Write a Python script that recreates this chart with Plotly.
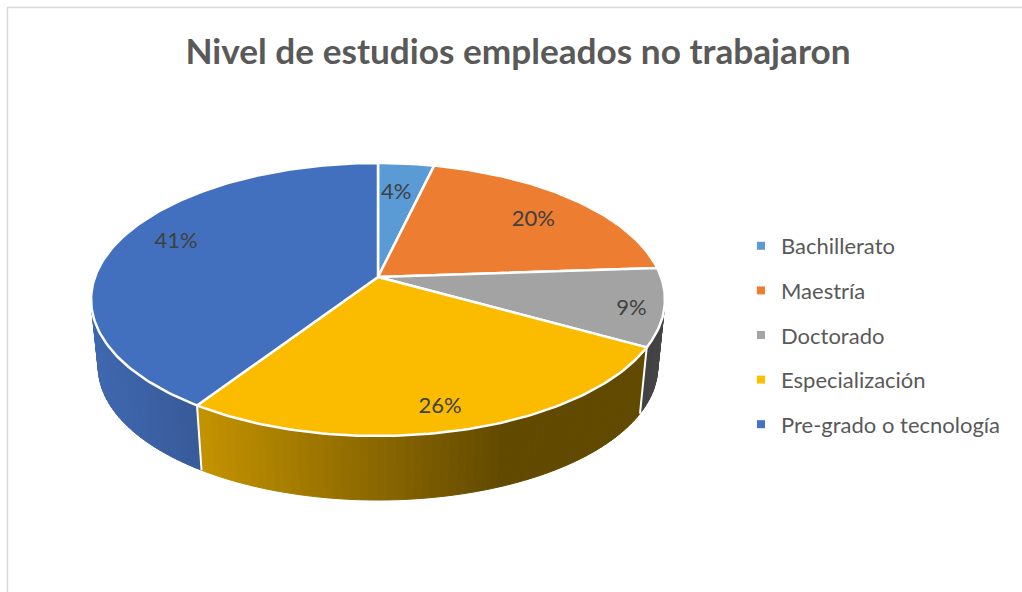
import math
import plotly.graph_objects as go

categories = ['Bachillerato', 'Maestría', 'Doctorado', 'Especialización', 'Pre-grado o tecnología']
values = [3.7, 20.2, 9.2, 26.2, 40.7]
percent_labels = ['4%', '20%', '9%', '26%', '41%']
title_text = 'Nivel de estudios empleados no trabajaron'

top_colors = ['#5b9bd5', '#ed7d31', '#a3a3a3', '#fbbc00', '#4270be']
legend_colors = ['#5b9bd5', '#ed7d31', '#a5a5a5', '#ffc000', '#4472c4']

# wall colour at the left / right end of the x span, per slice
wall_shade = {
    0: ('#35699a', '#35699a', 0, 1),
    1: ('#8a4a1d', '#8a4a1d', 0, 1),
    2: ('#3f3f3f', '#474747', 640, 665),
    3: ('#c49300', '#624900', 200, 500),
    4: ('#3f68b0', '#385a99', 92, 200),
}

# perspective of the disc, in pixels of the 1022x592 page
CX, CY = 378, 277
A, B, K = 283, 132.8, 0.1648
DROP, SHRINK = 68, 0.025

label_r = [0.72, 0.78, 0.885, 0.84, 0.80]
label_dx = [-3, 0, 1, -3, 7]
label_dy = [1, 5, 6, 5, -5]


def project(theta, r=1.0, z=0.0):
    u = r * math.sin(theta)
    v = -r * math.cos(theta)
    d = 1 - K * v
    s = 1 - z * SHRINK
    return CX + s * A * u / d, CY + z * DROP + s * B * v / d


def mix(c1, c2, t):
    t = min(1, max(0, t))
    a = [int(c1[i:i + 2], 16) for i in (1, 3, 5)]
    b = [int(c2[i:i + 2], 16) for i in (1, 3, 5)]
    return 'rgb(%d,%d,%d)' % tuple(round(p + (q - p) * t) for p, q in zip(a, b))


total = sum(values)
angles = [0]
for val in values:
    angles.append(angles[-1] + val / total * 2 * math.pi)

fig = go.Figure()

########### walls ###########
bands = []
for i in range(len(values)):
    n = max(2, int((angles[i + 1] - angles[i]) / math.radians(1.5)))
    for j in range(n):
        t0 = angles[i] + (angles[i + 1] - angles[i]) * j / n
        t1 = angles[i] + (angles[i + 1] - angles[i]) * (j + 1) / n
        bands.append((-math.cos((t0 + t1) / 2), i, t0, t1))

for v, i, t0, t1 in sorted(bands):
    if v < -0.45:
        continue
    pts = [project(t0), project(t1), project(t1, z=1), project(t0, z=1), project(t0)]
    c1, c2, xa, xb = wall_shade[i]
    col = mix(c1, c2, (sum(p[0] for p in pts[:4]) / 4 - xa) / (xb - xa))
    fig.add_trace(go.Scatter(x=[p[0] for p in pts], y=[p[1] for p in pts], mode='lines', fill='toself',
                             fillcolor=col, line=dict(color=col, width=1), showlegend=False, hoverinfo='skip'))

# white separators on the wall
for i in range(len(values)):
    if -math.cos(angles[i]) > 0.2:
        p0, p1 = project(angles[i]), project(angles[i], z=1)
        fig.add_trace(go.Scatter(x=[p0[0], p1[0]], y=[p0[1], p1[1]], mode='lines',
                                 line=dict(color='white', width=2), showlegend=False, hoverinfo='skip'))

########### top of the pie ###########
for i, name in enumerate(categories):
    n = max(2, int((angles[i + 1] - angles[i]) / math.radians(1)))
    pts = [project(0, r=0)]
    pts += [project(angles[i] + (angles[i + 1] - angles[i]) * j / n) for j in range(n + 1)]
    pts.append(project(0, r=0))
    fig.add_trace(go.Scatter(x=[p[0] for p in pts], y=[p[1] for p in pts], mode='lines', fill='toself',
                             fillcolor=top_colors[i], line=dict(color='white', width=2.5),
                             showlegend=False, name=name, hoverinfo='name'))

########### labels ###########
for i, txt in enumerate(percent_labels):
    x, y = project((angles[i] + angles[i + 1]) / 2, r=label_r[i])
    fig.add_trace(go.Scatter(x=[x + label_dx[i]], y=[y + label_dy[i]], mode='text', text=[txt],
                             textposition='middle center',
                             textfont=dict(family='Lato', size=22, color='#404040'),
                             showlegend=False, hoverinfo='skip'))

########### legend ###########
for i, name in enumerate(categories):
    fig.add_trace(go.Scatter(x=[None], y=[None], mode='markers', name=name, legendgroup=name,
                             marker=dict(symbol='square', size=8, color=legend_colors[i])))

fig.update_layout(
    width=1022, height=592,
    margin=dict(l=0, r=0, t=0, b=0),
    paper_bgcolor='white', plot_bgcolor='white',
    title=dict(text=title_text, x=518 / 1022, xanchor='center', y=1 - 52 / 592, yanchor='middle',
               font=dict(family='Lato', size=35.2, color='#595959', weight='bold')),
    xaxis=dict(range=[0, 1022], visible=False, fixedrange=True),
    yaxis=dict(range=[592, 0], visible=False, fixedrange=True),
    legend=dict(x=741 / 1022, y=1 - 225 / 592, xanchor='left', yanchor='top', tracegroupgap=13,
                font=dict(family='Lato', size=22, color='#595959'), bgcolor='rgba(0,0,0,0)'),
    shapes=[
        dict(type='line', xref='paper', yref='paper', x0=7 / 1022, x1=1, y0=1 - 7.5 / 592, y1=1 - 7.5 / 592,
             line=dict(color='#d9d9d9', width=1.5)),
        dict(type='line', xref='paper', yref='paper', x0=7.5 / 1022, x1=7.5 / 1022, y0=0, y1=1 - 7 / 592,
             line=dict(color='#d9d9d9', width=1.5)),
    ],
)

fig.write_html("out.html", config=dict(displayModeBar=False), post_script="document.body.style.margin='0';")
